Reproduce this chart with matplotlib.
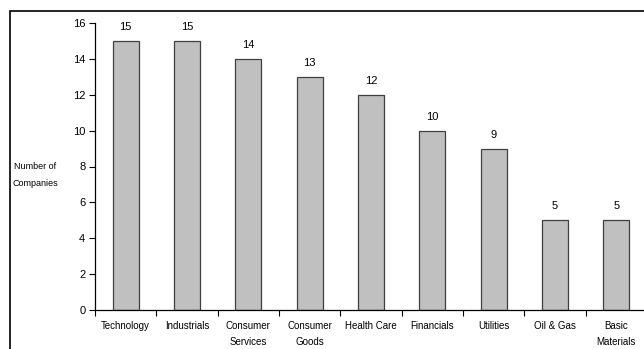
import matplotlib
matplotlib.use("Agg")
import matplotlib.pyplot as plt
from matplotlib.patches import Rectangle
import numpy as np

categories = ["Technology", "Industrials", "Consumer\nServices", "Consumer\nGoods",
              "Health Care", "Financials", "Utilities", "Oil & Gas", "Basic\nMaterials"]
values = [15, 15, 14, 13, 12, 10, 9, 5, 5]
yticks = [0, 2, 4, 6, 8, 10, 12, 14, 16]

plt.rcParams['font.family'] = ['Liberation Sans', 'DejaVu Sans']

W, H = 644, 349
fig = plt.figure(figsize=(W/100, H/100), dpi=100)

# outer chart border
fig.patches.append(Rectangle((10/W, -0.05), 1.1, 1 - 11/H + 0.05, transform=fig.transFigure,
                             fill=False, edgecolor='black', linewidth=1.2))

x0, x1 = 95, 647
y0, y1 = 310, 23
ax = fig.add_axes([x0/W, 1 - y0/H, (x1 - x0)/W, (y0 - y1)/H])
x = np.arange(len(categories))
ax.bar(x, values, width=0.42, color='#C0C0C0', edgecolor='#404040', linewidth=0.9)
for xi, v in zip(x, values):
    ax.annotate(str(v), (xi, v), xytext=(0, 6.5), textcoords='offset points',
                ha='center', va='bottom', fontsize=8)

ax.set_xlim(-0.5, len(categories) - 0.5)
ax.set_ylim(0, 16)
ax.set_yticks(yticks)
ax.set_yticklabels([str(t) for t in yticks], fontsize=8)
ax.set_xticks(x)
ax.set_xticklabels(categories, fontsize=7, linespacing=1.7)
ax.tick_params(axis='x', which='major', length=0, pad=8)
ax.set_xticks(np.arange(-0.5, len(categories), 1.0), minor=True)
ax.tick_params(axis='x', which='minor', length=4, width=0.8, direction='out')
ax.tick_params(axis='y', length=4, width=0.8, direction='out', pad=3)
for s in ['top', 'right']:
    ax.spines[s].set_visible(False)
for s in ['left', 'bottom']:
    ax.spines[s].set_linewidth(0.9)
ax.patch.set_alpha(0)

fig.text(35/W, 1 - 175/H, "Number of\nCompanies", ha='center', va='center', fontsize=6.5,
         linespacing=2.1)

fig.savefig("out.png", dpi=100)
